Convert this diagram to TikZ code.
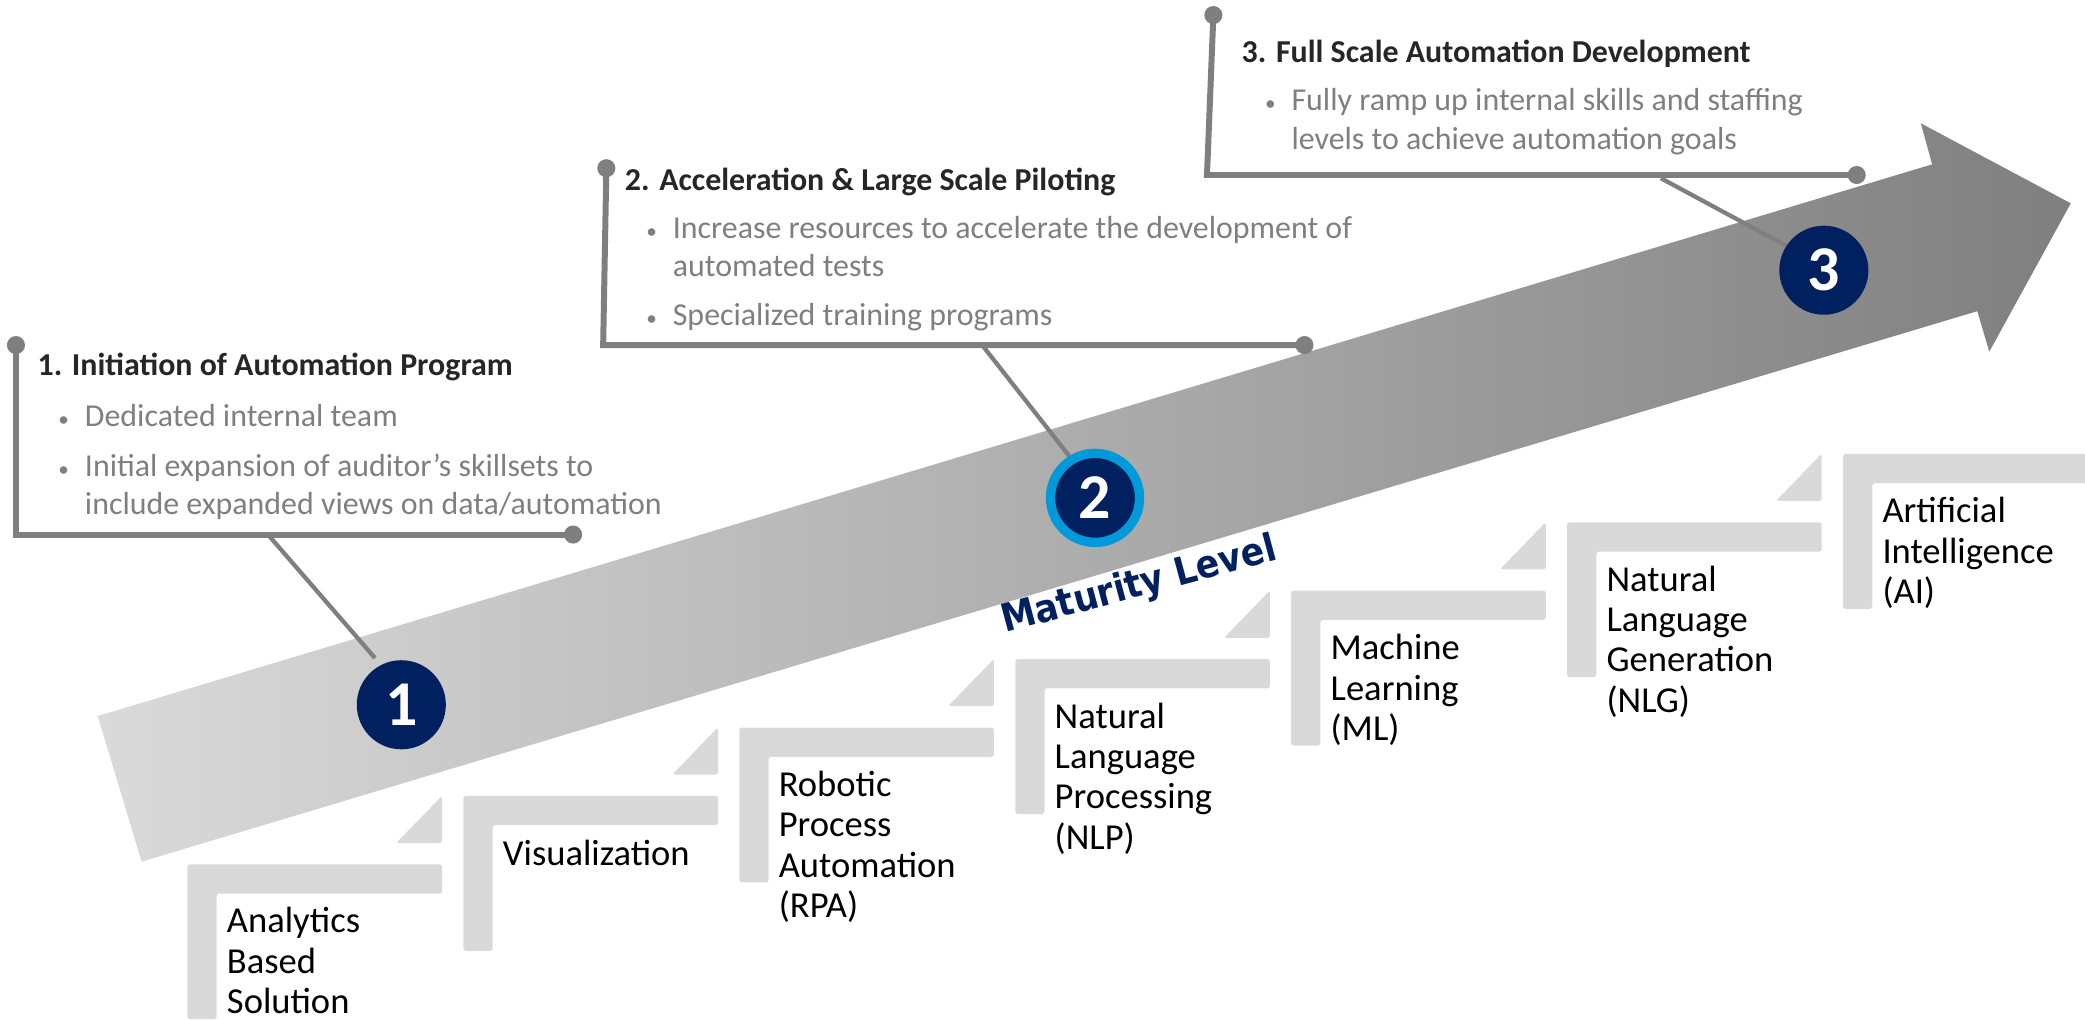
\documentclass[tikz,border=0pt]{standalone}
\usepackage{fontspec}
\setmainfont{Carlito}
\newfontfamily\dejavu{DejaVu Sans}[FakeStretch=0.9]
\pgfdeclarelayer{bg}
\pgfsetlayers{bg,main}
\definecolor{navy}{HTML}{002060}
\definecolor{ringblue}{HTML}{0099DA}
\definecolor{linegray}{HTML}{7F7F7F}
\definecolor{txtgray}{HTML}{7F7F7F}
\definecolor{stepgray}{HTML}{D9D9D9}
\definecolor{titleblack}{HTML}{262626}
\definecolor{arrowL}{HTML}{DADADA}
\definecolor{arrowR}{HTML}{7F7F7F}
\newcommand\stepText[4]{%
  \foreach \w [count=\k from 0] in {#4} {\node[slbl] (#1-\k) at (#2,#3+30.3*\k) {\w};}%
}
\begin{document}
\begin{tikzpicture}[x=1pt,y=-1pt,
  every node/.style={inner sep=0pt, outer sep=0pt},
  numcirc/.style={circle, fill=navy, minimum size=67pt, text=white, font=\fontsize{48}{48}\selectfont\bfseries},
  ctitle/.style={anchor=base west, text=titleblack, font=\fontsize{24}{28}\selectfont\bfseries},
  cbody/.style={anchor=base west, text=txtgray, font=\fontsize{24}{28}\selectfont},
  cbullet/.style={anchor=base, text=txtgray, font=\fontsize{16}{18}\selectfont},
  slbl/.style={anchor=base west, text=black, font=\fontsize{27.5}{30}\selectfont},
  cline/.style={draw=linegray, line width=4.5pt},
  dline/.style={draw=linegray, line width=3.2pt},
  cdot/.style={circle, fill=linegray, minimum size=13.6pt},
  stepshape/.style={fill=stepgray, rounded corners=2pt},
]
\useasboundingbox (0,0) rectangle (1568,766.33);

% numbered circles
\node[numcirc] (c1) at (301.8,530) {1};
\node[numcirc, draw=ringblue, line width=7pt] (c2) at (823.5,374.4) {2};
\node[numcirc] (c3) at (1371.6,203.2) {3};

\begin{pgfonlayer}{bg}
  % big arrow
  \shade[left color=arrowL, right color=arrowR]
    (73.5,538.5) -- (1453,123.6) -- (1444.5,92.7) -- (1557.3,152.9)
    -- (1496,264.5) -- (1487,234) -- (106.5,648) -- cycle;
  % callout 1
  \node[cdot] (d1a) at (12,259.5) {};
  \coordinate (k1c) at (12,402);
  \node[cdot] (d1b) at (431,402) {};
  \draw[cline] (d1a.center) -- (k1c) -- (d1b.center);
  \coordinate (k1d) at (201.5,402);
  \draw[dline, shorten >=7pt] (k1d) -- (c1.117);
  % callout 2
  \node[cdot] (d2a) at (456,126.5) {};
  \coordinate (k2c) at (453.6,259.5);
  \node[cdot] (d2b) at (981,259.5) {};
  \draw[cline] (d2a.center) -- (k2c) -- (d2b.center);
  \coordinate (k2d) at (739,260);
  \draw[dline] (k2d) -- (c2.121);
  % callout 3
  \node[cdot] (d3a) at (912.5,11.3) {};
  \coordinate (k3c) at (907.7,131.6);
  \node[cdot] (d3b) at (1396.3,131.6) {};
  \draw[cline] (d3a.center) -- (k3c) -- (d3b.center);
  \coordinate (k3d) at (1249,134);
  \draw[dline] (k3d) -- (c3.147);
\end{pgfonlayer}

% steps
\foreach \i in {0,...,6} {
  \pgfmathsetmacro\L{141+207.5*\i}
  \pgfmathsetmacro\T{650-51.45*\i}
  \fill[stepshape] (\L,\T) -- ++(191.5,0) -- ++(0,22) -- ++(-169.5,0) -- ++(0,94.5) -- ++(-22,0) -- cycle;
}
\foreach \i in {0,...,5} {
  \pgfmathsetmacro\L{141+207.5*\i}
  \pgfmathsetmacro\T{650-51.45*\i}
  \fill[stepshape] (\L+191.5,\T-51.6) -- (\L+191.5,\T-16) -- (\L+157,\T-16) -- cycle;
}

% step labels
\stepText{s0}{170.7}{701.5}{Analytics,Based,Solution}
\stepText{s1}{378.2}{650.55}{Visualization}
\stepText{s2}{585.7}{599.1}{Robotic,Process,Automation,(RPA)}
\stepText{s3}{793.2}{547.65}{Natural,Language,Processing,(NLP)}
\stepText{s4}{1000.7}{496.2}{Machine,Learning,(ML)}
\stepText{s5}{1208.2}{444.75}{Natural,Language,Generation,(NLG)}
\stepText{s6}{1415.7}{393.3}{Artificial,Intelligence,(AI)}

% maturity level
\node[anchor=base west, rotate=15, text=navy, font=\dejavu\bfseries\fontsize{29}{32}\selectfont] (ml) at (755.8,476) {Maturity Level};

% callout 1 text
\node[ctitle] (t1) at (28.3,282.5) {1. Initiation of Automation Program};
\node[cbullet] (b1a) at (47.9,320.4) {•};
\node[cbody] (l1a) at (63.9,320.4) {Dedicated internal team};
\node[cbullet] (b1b) at (47.9,358) {•};
\node[cbody] (l1b) at (63.9,358) {Initial expansion of auditor’s skillsets to};
\node[cbody] (l1c) at (63.9,387) {include expanded views on data/automation};

% callout 2 text
\node[ctitle] (t2) at (470,142.9) {2. Acceleration \& Large Scale Piloting};
\node[cbullet] (b2a) at (490,179.5) {•};
\node[cbody] (l2a) at (506,179.5) {Increase resources to accelerate the development of};
\node[cbody] (l2b) at (506,208) {automated tests};
\node[cbullet] (b2b) at (490,244.5) {•};
\node[cbody] (l2c) at (506,244.5) {Specialized training programs};

% callout 3 text
\node[ctitle] (t3) at (933.8,47.1) {3. Full Scale Automation Development};
\node[cbullet] (b3a) at (955.3,83.2) {•};
\node[cbody] (l3a) at (971.3,83.2) {Fully ramp up internal skills and staffing};
\node[cbody] (l3b) at (971.3,112.3) {levels to achieve automation goals};
\end{tikzpicture}
\end{document}
